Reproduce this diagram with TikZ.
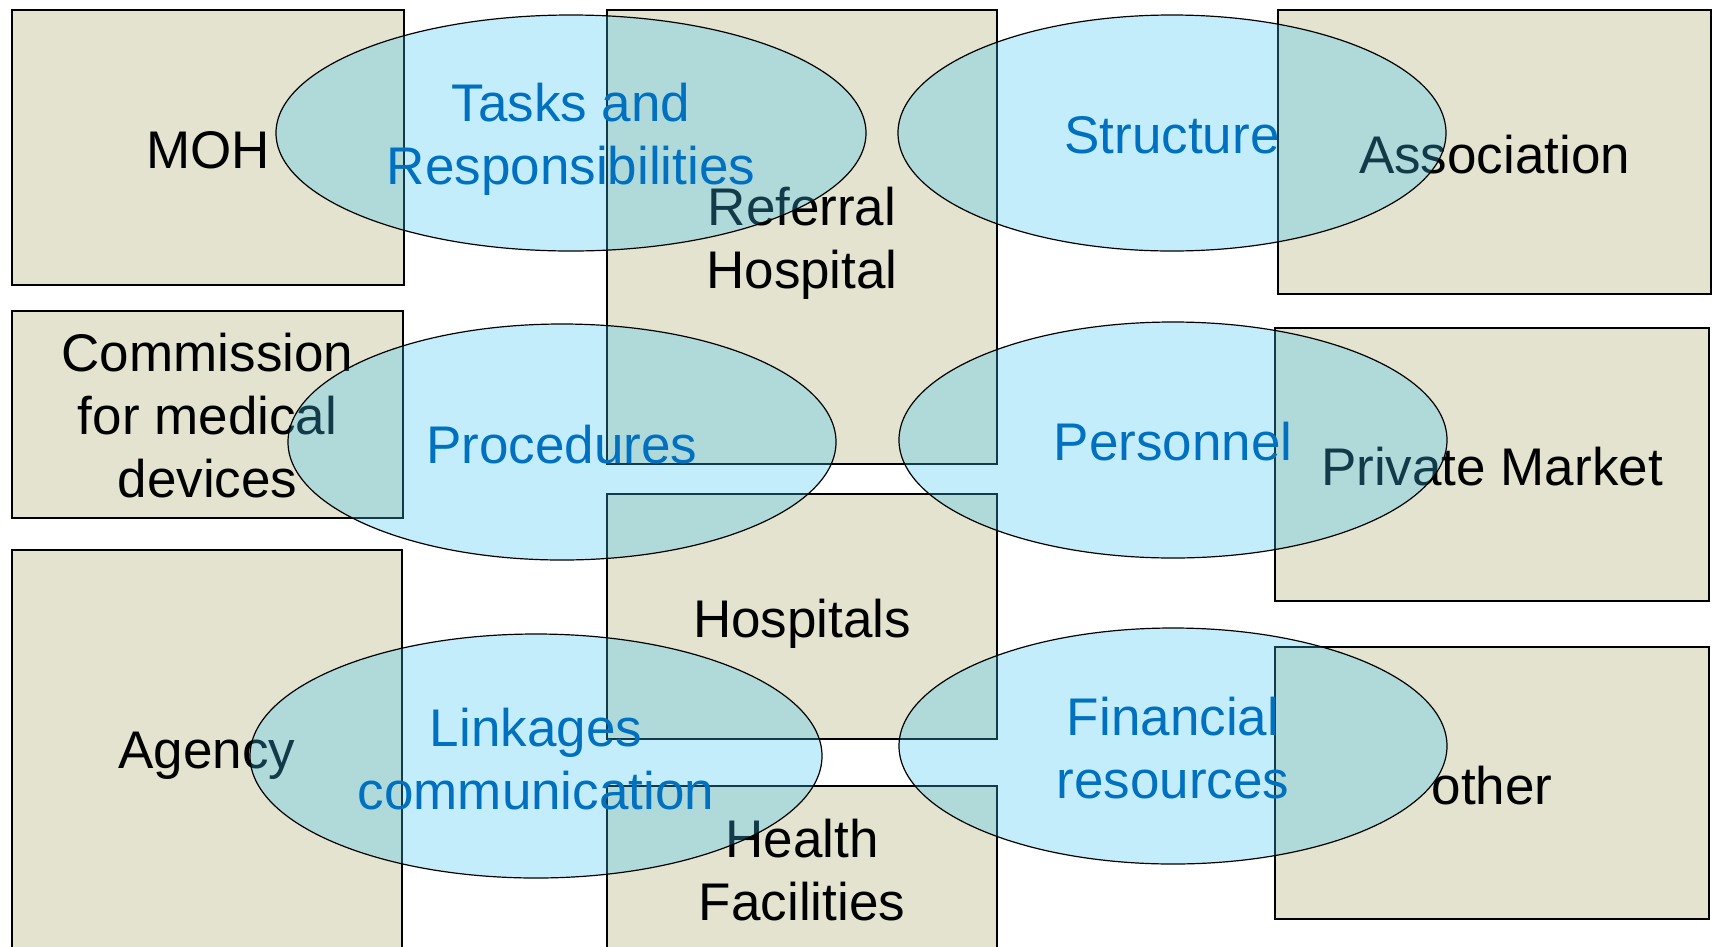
\documentclass[tikz,border=0pt]{standalone}
\usepackage{fontspec}
\setmainfont{Liberation Sans}
\usepackage{tikz}
\usetikzlibrary{shapes.geometric}
\definecolor{boxfill}{RGB}{227,227,207}
\definecolor{ovalfill}{RGB}{60,195,245}
\definecolor{ovaltext}{RGB}{0,112,192}

\begin{document}
\begin{tikzpicture}[x=1pt, y=-1pt,
    txt/.style={align=center, inner sep=0pt, text opacity=1,
                font=\fontsize{53}{63}\selectfont},
    actor/.style={draw=black, line width=1.5pt, fill=boxfill, inner sep=0pt},
    area/.style={ellipse, draw=black, line width=1.2pt, fill=ovalfill,
                 fill opacity=0.3, inner sep=0pt},
    areatxt/.style={txt, text=ovaltext}]
    \useasboundingbox (0,0) rectangle (1713,946);
    \clip (0,0) rectangle (1713,946);
    % organisations
    \node (moh) [actor, minimum width=392pt, minimum height=275pt,
        label={[txt, yshift=-3pt]center:MOH}] at (208,147.5) {};
    \node (comm) [actor, minimum width=391pt, minimum height=207pt,
        label={[txt, yshift=-1pt]center:Commission\\for medical\\devices}] at (207.5,414.5) {};
    \node (agency) [actor, minimum width=390pt, minimum height=404pt,
        label={[txt, yshift=-4pt]center:Agency}] at (207,752) {};
    \node (referral) [actor, minimum width=390pt, minimum height=454pt,
        label={[txt, yshift=-6.5pt]center:Referral\\Hospital}] at (802,237) {};
    \node (hosp) [actor, minimum width=390pt, minimum height=245pt,
        label={[txt, yshift=-7.5pt]center:Hospitals}] at (802,616.5) {};
    \node (health) [actor, minimum width=390pt, minimum height=168pt,
        label={[txt]center:Health\\Facilities}] at (802,870) {};
    \node (assoc) [actor, minimum width=433pt, minimum height=284pt,
        label={[txt, yshift=-3pt]center:Association}] at (1494.5,152) {};
    \node (market) [actor, minimum width=434pt, minimum height=273pt,
        label={[txt, yshift=-2pt]center:Private Market}] at (1492,464.5) {};
    \node (other) [actor, minimum width=434pt, minimum height=272pt,
        label={[txt, yshift=-3pt]center:other}] at (1492,783) {};
    % areas
    \node (tasks) [area, minimum width=590pt, minimum height=236pt,
        label={[areatxt, yshift=-6.5pt]center:Tasks and\\Responsibilities}] at (571,133) {};
    \node (struct) [area, minimum width=548pt, minimum height=236pt,
        label={[areatxt, yshift=-2pt]center:Structure}] at (1172,133) {};
    \node (proc) [area, minimum width=548pt, minimum height=236pt,
        label={[areatxt, yshift=-3pt]center:Procedures}] at (562,442) {};
    \node (staff) [area, minimum width=548pt, minimum height=236pt,
        label={[areatxt, yshift=-2pt]center:Personnel}] at (1173,440) {};
    \node (links) [area, minimum width=572pt, minimum height=244pt,
        label={[areatxt, yshift=-3pt]center:Linkages\\communication}] at (536,756) {};
    \node (money) [area, minimum width=548pt, minimum height=236pt,
        label={[areatxt, yshift=-2pt]center:Financial\\resources}] at (1173,746) {};
\end{tikzpicture}
\end{document}
